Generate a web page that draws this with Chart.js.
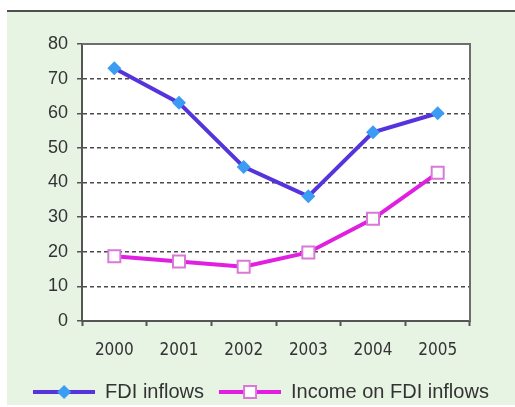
<!DOCTYPE html>
<html>
<head>
<meta charset="utf-8">
<script src="https://cdn.jsdelivr.net/npm/chart.js@4.4.0/dist/chart.umd.min.js"></script>
<style>
  html, body { margin: 0; padding: 0; background: #fff; overflow: hidden; }
  #panel { position: absolute; left: 7px; top: 10px; width: 508px; height: 393px;
           background: #e7f4e4; border-top: 2px solid #505050; }
  #chart { position: absolute; left: 0; top: 0; }
</style>
</head>
<body>
<div id="panel"></div>
<canvas id="chart" width="515" height="412"></canvas>
<script>
/* dados */
const years = ["2000", "2001", "2002", "2003", "2004", "2005"];
const fdiInflows = [73, 63, 44.5, 36, 54.5, 60];
const incomeOnFdi = [18.7, 17.2, 15.7, 19.8, 29.5, 42.8];
const yTicks = [0, 10, 20, 30, 40, 50, 60, 70, 80];

const azul = "#5534dc";
const azulPonto = "#3a9cf2";
const rosa = "#e11fe0";
const rosaBorda = "#d978d9";

// icone da legenda: linha + marcador
function iconeLegenda(cor, desenhaMarcador) {
  const c = document.createElement("canvas");
  c.width = 62;
  c.height = 18;
  const g = c.getContext("2d");
  g.strokeStyle = cor;
  g.lineWidth = 4;
  g.beginPath();
  g.moveTo(0, 9);
  g.lineTo(62, 9);
  g.stroke();
  desenhaMarcador(g);
  return c;
}
const iconeFdi = iconeLegenda(azul, function (g) {
  g.fillStyle = azulPonto;
  g.beginPath();
  g.moveTo(31, 2); g.lineTo(38, 9); g.lineTo(31, 16); g.lineTo(24, 9);
  g.closePath();
  g.fill();
});
const iconeIncome = iconeLegenda(rosa, function (g) {
  g.fillStyle = "#fff";
  g.fillRect(24, 2, 14, 14);
  g.strokeStyle = rosaBorda;
  g.lineWidth = 2;
  g.strokeRect(25, 3, 12, 12);
});

// fundo branco da área do gráfico + moldura
const moldura = {
  id: "moldura",
  beforeDraw(chart) {
    const a = chart.chartArea;
    const ctx = chart.ctx;
    ctx.save();
    ctx.fillStyle = "#ffffff";
    ctx.fillRect(a.left, a.top, a.right - a.left, a.bottom - a.top);
    ctx.restore();
  },
  beforeDatasetsDraw(chart) {
    const a = chart.chartArea;
    const ctx = chart.ctx;
    ctx.save();
    ctx.strokeStyle = "#6e6e6e";
    ctx.lineWidth = 2;
    ctx.beginPath();
    ctx.moveTo(a.left, a.top);
    ctx.lineTo(a.right, a.top);
    ctx.lineTo(a.right, a.bottom);
    ctx.stroke();
    ctx.restore();
  }
};

const data = {
  labels: years,
  datasets: [
    {
      label: "FDI inflows",
      data: fdiInflows,
      borderColor: azul,
      backgroundColor: azulPonto,
      borderWidth: 4,
      pointStyle: "rectRot",
      pointRadius: 7,
      pointBorderWidth: 0,
      pointBackgroundColor: azulPonto,
      tension: 0
    },
    {
      label: "Income on FDI inflows",
      data: incomeOnFdi,
      borderColor: rosa,
      backgroundColor: "#fff",
      borderWidth: 4,
      pointStyle: "rect",
      pointRadius: 8.5,
      pointBorderWidth: 2,
      pointBorderColor: rosaBorda,
      pointBackgroundColor: "#fff",
      tension: 0
    }
  ]
};

const config = {
  type: "line",
  data: data,
  options: {
    responsive: false,
    animation: false,
    layout: { padding: { left: 7, right: 0, top: 44, bottom: 0 } },
    scales: {
      x: {
        offset: true,
        grid: { drawOnChartArea: false, drawTicks: true, tickLength: 5, tickColor: "#555", tickWidth: 2, offset: true },
        border: { color: "#555", width: 2 },
        ticks: { color: "#333", padding: 14, font: { family: "'DejaVu Sans Condensed', 'Liberation Sans', Arial", size: 17 } },
        afterFit(scale) { scale.height = 46; }
      },
      y: {
        min: 0,
        max: 80,
        afterBuildTicks(scale) { scale.ticks = yTicks.map(v => ({ value: v })); },
        grid: {
          color: c => (c.tick && (c.tick.value === 0 || c.tick.value === 80)) ? "rgba(0,0,0,0)" : "#4a4a4a",
          lineWidth: 1.5,
          tickLength: 5,
          tickColor: "#555",
          tickWidth: 1.5,
          tickBorderDash: []
        },
        border: { color: "#555", width: 2, dash: [4, 3] },
        ticks: { color: "#333", padding: 9, font: { family: "'Liberation Sans', Arial", size: 18 } },
        afterFit(scale) { scale.width = 75; }
      },
      // eixo vazio à direita só para dar a margem
      margem: {
        position: "right",
        display: true,
        grid: { display: false, drawTicks: false },
        border: { display: false },
        ticks: { display: false },
        afterFit(scale) { scale.width = 45; }
      }
    },
    plugins: {
      legend: {
        position: "bottom",
        labels: {
          usePointStyle: true,
          pointStyleWidth: 62,
          padding: 15,
          color: "#333",
          font: { family: "'Liberation Sans', Arial", size: 20 },
          generateLabels(chart) {
            const itens = Chart.defaults.plugins.legend.labels.generateLabels(chart);
            itens[0].pointStyle = iconeFdi;
            itens[1].pointStyle = iconeIncome;
            return itens;
          }
        }
      },
      tooltip: { enabled: false }
    }
  },
  plugins: [moldura]
};

let myChart = new Chart(document.getElementById("chart"), config);
</script>
</body>
</html>
